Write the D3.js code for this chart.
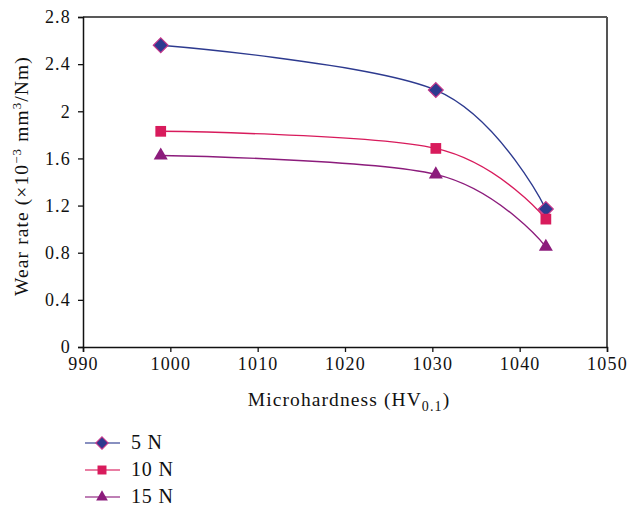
<!DOCTYPE html>
<html>
<head>
<meta charset="utf-8">
<script src="https://cdn.jsdelivr.net/npm/d3@7"></script>
<style>
  body { margin: 0; background: #fff; }
  text { font-family: "Liberation Serif", "DejaVu Serif", serif; fill: #111; }
</style>
</head>
<body>
<svg width="643" height="508"></svg>
<script>
// microhardness (x) and wear rate for each load
var hardness = [998.9, 1030.4, 1043];
var wear5 = [2.56, 2.18, 1.17];
var wear10 = [1.83, 1.685, 1.085];
var wear15 = [1.625, 1.465, 0.85];
var seriesNames = ['5 N', '10 N', '15 N'];
var xTicks = [990, 1000, 1010, 1020, 1030, 1040, 1050];
var yTicks = [0, 0.4, 0.8, 1.2, 1.6, 2, 2.4, 2.8];

// square rotated 45 deg, so the diamond is not stretched
var diamond = {
	draw: function(ctx, size) {
		var r = Math.sqrt(size / 2);
		ctx.moveTo(0, -r); ctx.lineTo(r, 0); ctx.lineTo(0, r); ctx.lineTo(-r, 0); ctx.closePath();
	}
};

function main() {
	var svg = d3.select('svg');
	var left = 83, right = 607, top = 17, bottom = 347;

	var x = d3.scaleLinear().domain([990, 1050]).range([left, right]);
	var y = d3.scaleLinear().domain([0, 2.8]).range([bottom, top]);

	var colors = ['#2d3a8f', '#d81b5c', '#8c1c7c'];
	var shapes = [diamond, d3.symbolSquare, d3.symbolTriangle];
	var sizes = [110, 115, 85];
	var allWear = [wear5, wear10, wear15];

	// plot frame (top and right)
	svg.append('line').attr('x1', left).attr('x2', right).attr('y1', top).attr('y2', top)
		.attr('stroke', '#222').attr('stroke-width', 1.5);
	svg.append('line').attr('x1', right).attr('x2', right).attr('y1', top).attr('y2', bottom)
		.attr('stroke', '#555').attr('stroke-width', 2);

	var xAxis = svg.append('g')
		.attr('transform', 'translate(0,' + bottom + ')')
		.call(d3.axisBottom(x).tickValues(xTicks).tickSize(5).tickPadding(5).tickFormat(d3.format('d')));
	var yAxis = svg.append('g')
		.attr('transform', 'translate(' + left + ',0)')
		.call(d3.axisLeft(y).tickValues(yTicks).tickSize(5).tickPadding(7).tickFormat(function(d){ return String(+d.toFixed(1)); }));

	[xAxis, yAxis].forEach(function(a){
		a.select('.domain').attr('stroke', '#111').attr('stroke-width', 1.5);
		a.selectAll('.tick line').attr('stroke', '#111').attr('stroke-width', 1.3);
		a.selectAll('text').style('font-family', '"Liberation Serif", serif').style('font-size', '18px')
			.style('letter-spacing', '1.2px').attr('fill', '#111');
	});

	var line = d3.line()
		.x(function(d){ return x(d[0]); })
		.y(function(d){ return y(d[1]); })
		.curve(d3.curveCardinal.tension(0));

	allWear.forEach(function(vals, i){
		var pts = hardness.map(function(h, j){ return [h, vals[j]]; });
		svg.append('path')
			.attr('d', line(pts))
			.attr('fill', 'none')
			.attr('stroke', colors[i])
			.attr('stroke-width', 1.4);
		svg.selectAll('.m' + i)
			.data(pts)
			.enter().append('path')
			.attr('class', 'm' + i)
			.attr('transform', function(d){ return 'translate(' + x(d[0]) + ',' + y(d[1]) + ')'; })
			.attr('d', d3.symbol().type(shapes[i]).size(sizes[i]))
			.attr('fill', colors[i])
			.attr('stroke', i === 0 ? '#c4358a' : 'none')
			.attr('stroke-width', 1.2);
	});

	// axis titles
	var yt = svg.append('text')
		.attr('transform', 'translate(28,176) rotate(-90)')
		.attr('text-anchor', 'middle')
		.style('font-size', '19.5px')
		.style('letter-spacing', '1.1px');
	yt.append('tspan').text('Wear rate (×10');
	yt.append('tspan').attr('dy', -7).style('font-size', '13px').text('−3');
	yt.append('tspan').attr('dy', 7).text(' mm');
	yt.append('tspan').attr('dy', -7).style('font-size', '13px').text('3');
	yt.append('tspan').attr('dy', 7).text('/Nm)');

	var xt = svg.append('text')
		.attr('x', 349).attr('y', 406)
		.attr('text-anchor', 'middle')
		.style('font-size', '19.5px')
		.style('letter-spacing', '1.1px');
	xt.append('tspan').text('Microhardness (HV');
	xt.append('tspan').attr('dy', 5).style('font-size', '14px').text('0.1');
	xt.append('tspan').attr('dy', -5).text(')');

	// legend
	var lg = svg.append('g');
	seriesNames.forEach(function(name, i){
		var ly = 443 + i * 27;
		lg.append('line').attr('x1', 85).attr('x2', 120).attr('y1', ly).attr('y2', ly)
			.attr('stroke', colors[i]).attr('stroke-width', 1.6).attr('opacity', 0.75);
		lg.append('path')
			.attr('transform', 'translate(102,' + ly + ')')
			.attr('d', d3.symbol().type(shapes[i]).size(sizes[i] * 0.7))
			.attr('fill', colors[i])
			.attr('stroke', i === 0 ? '#c4358a' : 'none')
			.attr('stroke-width', 1.1);
		lg.append('text').attr('x', 131).attr('y', ly + 6)
			.style('font-size', '20px')
			.style('letter-spacing', '0.8px')
			.text(name);
	});
}
main();
</script>
</body>
</html>
